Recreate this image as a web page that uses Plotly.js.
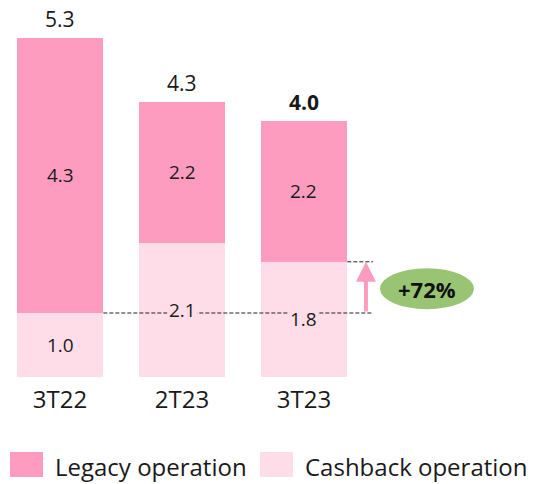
<!DOCTYPE html>
<html><head><meta charset="utf-8">
<script src="https://cdn.plot.ly/plotly-3.0.1.min.js"></script>
<style>html,body{margin:0;padding:0;background:#fff}#chart{width:536px;height:484px}</style>
</head><body><div id="chart"></div>
<script>
const categories = ['3T22', '2T23', '3T23'];
const legacyValues = [4.3, 2.2, 2.2];
const cashbackValues = [1.0, 2.1, 1.8];
const seriesNames = ['Legacy operation', 'Cashback operation'];
const growthLabel = '+72%';

const darkPink = '#FE9CBF';
const lightPink = '#FFDDE8';
const txt = '#1a1a1a';
const FONT = 'Open Sans, sans-serif';
const xi = categories.map((c, i) => i);
const totals = legacyValues.map((v, i) => v + cashbackValues[i]);
const barWidth = 0.71;

const traces = [
  {type: 'bar', name: seriesNames[1], x: xi, y: cashbackValues, width: barWidth,
   marker: {color: lightPink}, hoverinfo: 'skip'},
  {type: 'bar', name: seriesNames[0], x: xi, y: legacyValues, width: barWidth,
   marker: {color: darkPink}, hoverinfo: 'skip'}
];

const annotations = [];
xi.forEach((x, i) => {
  annotations.push({x: x, y: cashbackValues[i] / 2, xref: 'x', yref: 'y', text: cashbackValues[i].toFixed(1),
    showarrow: false, font: {size: 19, color: txt, family: FONT}, bgcolor: lightPink, borderpad: 1});
  annotations.push({x: x, y: cashbackValues[i] + legacyValues[i] / 2, xref: 'x', yref: 'y', text: legacyValues[i].toFixed(1),
    showarrow: false, font: {size: 19, color: txt, family: FONT}});
  const last = i === xi.length - 1;
  annotations.push({x: x, y: totals[i], xref: 'x', yref: 'y', yanchor: 'bottom', yshift: 3,
    text: last ? '<b>' + totals[i].toFixed(1) + '</b>' : totals[i].toFixed(1),
    showarrow: false, font: {size: 21, color: txt, family: FONT}});
});
// growth arrow
const arrowX = 2.508;
annotations.push({x: arrowX, y: cashbackValues[2], ax: arrowX, ay: cashbackValues[0], xref: 'x', yref: 'y', axref: 'x', ayref: 'y',
  showarrow: true, arrowhead: 2, arrowsize: 1, arrowwidth: 4, arrowcolor: darkPink, text: ''});
annotations.push({x: 3.008, y: 1.375, xref: 'x', yref: 'y', text: '<b>' + growthLabel + '</b>', showarrow: false,
  font: {size: 22, color: '#111', family: FONT}});
// legend text
annotations.push({x: 53, y: 466, xref: 'paper', yref: 'paper', text: seriesNames[0], showarrow: false, xanchor: 'left', yanchor: 'middle', font: {size: 24, color: txt, family: FONT}});
annotations.push({x: 303, y: 466, xref: 'paper', yref: 'paper', text: seriesNames[1], showarrow: false, xanchor: 'left', yanchor: 'middle', font: {size: 24, color: txt, family: FONT}});

const layout = {
  width: 536, height: 484,
  margin: {l: 0, r: 0, t: 0, b: 107},
  barmode: 'stack',
  showlegend: false,
  paper_bgcolor: '#fff', plot_bgcolor: '#fff',
  xaxis: {range: [-0.492, 3.902], tickmode: 'array', tickvals: xi, ticktext: categories,
    showgrid: false, zeroline: false, showline: false, ticks: '', ticklabelstandoff: 6,
    tickfont: {size: 24, color: txt, family: FONT}, fixedrange: true},
  yaxis: {range: [0, 377 / 64], visible: false, fixedrange: true},
  shapes: [
    {type: 'line', xref: 'x', yref: 'y', x0: barWidth / 2, x1: 2.566, y0: cashbackValues[0], y1: cashbackValues[0],
      line: {color: '#222', width: 1, dash: '4px,2px'}, layer: 'above'},
    {type: 'line', xref: 'x', yref: 'y', x0: 2 + barWidth / 2, x1: 2.566, y0: cashbackValues[2], y1: cashbackValues[2],
      line: {color: '#222', width: 1, dash: '4px,2px'}, layer: 'above'},
    {type: 'circle', xref: 'x', yref: 'y', x0: 2.623, x1: 3.393, y0: 1.06, y1: 1.70,
      fillcolor: '#98C474', line: {width: 0}, layer: 'above'}
  ],
  annotations: annotations
};
const plotH = 484 - 107;
function py(p) { return (plotH - p) / plotH; }
annotations.forEach(a => { if (a.yref === 'paper') { a.x = a.x / 536; a.y = py(a.y); } });
layout.shapes.push({type: 'rect', xref: 'paper', yref: 'paper', x0: 10 / 536, x1: 43 / 536, y0: py(477), y1: py(452), fillcolor: darkPink, line: {width: 0}});
layout.shapes.push({type: 'rect', xref: 'paper', yref: 'paper', x0: 260 / 536, x1: 293 / 536, y0: py(477), y1: py(452), fillcolor: lightPink, line: {width: 0}});

Plotly.newPlot('chart', traces, layout, {displayModeBar: false, staticPlot: true});
</script></body></html>
